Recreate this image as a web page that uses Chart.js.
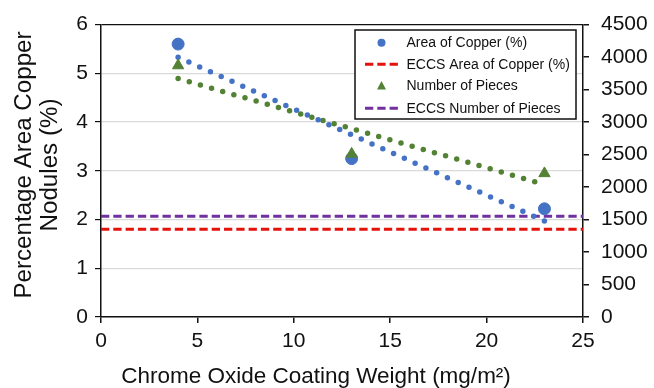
<!DOCTYPE html>
<html>
<head>
<meta charset="utf-8">
<script src="https://cdn.jsdelivr.net/npm/chart.js@4/dist/chart.umd.min.js"></script>
<style>
html,body{margin:0;padding:0;background:#fff;}
#wrap{width:654px;height:388px;position:relative;}
</style>
</head>
<body>
<div id="wrap"><canvas id="c" width="654" height="388"></canvas></div>
<script>
// ---- data ----
const coatingWeight = [4, 13, 23];            // mg/m2
const areaCopper = [5.6, 3.25, 2.22];         // % (left axis)
const numberPieces = [3870, 2510, 2210];      // count (right axis)
const eccsAreaCopper = 1.8;                   // % (left axis)
const eccsNumberPieces = 1550;                // count (right axis)
const trendX = [4, 23];
const areaTrend = [5.33, 1.97];               // linear trend endpoints (left)
const piecesTrend = [3670, 2040];             // linear trend endpoints (right)
const xRange = [0, 25];
const leftTicks = [0, 6, 1];
const rightTicks = [0, 4500, 500];
const legendLabels = ["Area of Copper (%)", "ECCS Area of Copper (%)", "Number of Pieces", "ECCS Number of Pieces"];
const xTitle = "Chrome Oxide Coating Weight (mg/m\u00B2)";
const yTitle = ["Percentage Area Copper", "Nodules (%)"];

const BLUE = '#4472C4', GREEN = '#548235', RED = '#E3120B', PURPLE = '#7030A0';
const FONT = "'Liberation Sans', Arial, sans-serif";

const pts = (xs, ys) => xs.map((x, i) => ({x: x, y: ys[i]}));

const overlay = {
  id: 'overlay',
  afterDraw(chart) {
    const ctx = chart.ctx;
    ctx.save();
    // y title (two lines, rotated)
    ctx.fillStyle = '#111';
    ctx.font = "23px " + FONT;
    ctx.textAlign = 'center';
    ctx.textBaseline = 'middle';
    const cy = 165;
    [[25, yTitle[0]], [51, yTitle[1]]].forEach(([x, t]) => {
      ctx.save();
      ctx.translate(x, cy);
      ctx.rotate(-Math.PI / 2);
      ctx.scale(1.05, 1);
      ctx.fillText(t, 0, 0);
      ctx.restore();
    });
    // x title
    ctx.font = "22.5px " + FONT;
    ctx.textBaseline = 'alphabetic';
    ctx.fillText(xTitle, 316, 383);

    // legend box
    const L = 355, T = 30, R = 576, B = 119;
    ctx.fillStyle = '#fff';
    ctx.fillRect(L, T, R - L, B - T);
    ctx.strokeStyle = '#111';
    ctx.lineWidth = 1.5;
    ctx.strokeRect(L, T, R - L, B - T);
    const rows = [42.7, 64.3, 85.9, 108.2];
    ctx.font = "14px " + FONT;
    ctx.textAlign = 'left';
    ctx.textBaseline = 'middle';
    ctx.fillStyle = '#111';
    legendLabels.forEach((t, i) => ctx.fillText(t, 406.5, rows[i] + 0.5));
    // markers
    ctx.fillStyle = BLUE;
    ctx.beginPath(); ctx.arc(381.5, rows[0], 4, 0, Math.PI * 2); ctx.fill();
    ctx.fillStyle = GREEN;
    ctx.beginPath();
    ctx.moveTo(381.5, rows[2] - 5); ctx.lineTo(386, rows[2] + 3.5); ctx.lineTo(377, rows[2] + 3.5);
    ctx.closePath(); ctx.fill();
    ctx.lineWidth = 3;
    ctx.setLineDash([8.3, 4]);
    [[rows[1], RED], [rows[3], PURPLE]].forEach(([y, c]) => {
      ctx.strokeStyle = c;
      ctx.beginPath(); ctx.moveTo(365, y); ctx.lineTo(398, y); ctx.stroke();
    });
    ctx.restore();
  }
};

const plainTick = v => String(v);

new Chart(document.getElementById('c'), {
  type: 'scatter',
  data: {
    datasets: [
      { label: 'ECCS Area of Copper (%)', type: 'line', yAxisID: 'y',
        data: pts(xRange, [eccsAreaCopper, eccsAreaCopper]),
        borderColor: RED, borderWidth: 3, borderDash: [8.3, 4], pointRadius: 0, fill: false, order: 5 },
      { label: 'ECCS Number of Pieces', type: 'line', yAxisID: 'y1',
        data: pts(xRange, [eccsNumberPieces, eccsNumberPieces]),
        borderColor: PURPLE, borderWidth: 3, borderDash: [8.3, 4], pointRadius: 0, fill: false, order: 4 },
      { label: 'Area trend', type: 'line', yAxisID: 'y',
        data: pts(trendX, areaTrend),
        borderColor: BLUE, borderWidth: 5.5, borderDash: [0, 11.8], borderCapStyle: 'round',
        pointRadius: 0, fill: false, order: 3 },
      { label: 'Pieces trend', type: 'line', yAxisID: 'y1',
        data: pts(trendX, piecesTrend),
        borderColor: GREEN, borderWidth: 5.5, borderDash: [0, 11.6], borderCapStyle: 'round',
        pointRadius: 0, fill: false, order: 3 },
      { label: legendLabels[0], yAxisID: 'y',
        data: pts(coatingWeight, areaCopper),
        backgroundColor: BLUE, borderColor: BLUE, pointRadius: 6, pointStyle: 'circle', order: 2 },
      { label: legendLabels[2], yAxisID: 'y1',
        data: pts(coatingWeight, numberPieces),
        backgroundColor: GREEN, borderColor: GREEN, pointRadius: 6.5, pointStyle: 'triangle', order: 1 }
    ]
  },
  options: {
    responsive: false,
    animation: false,
    events: [],
    layout: { padding: { top: 24, left: 0, right: 0, bottom: 0 } },
    plugins: { legend: { display: false }, tooltip: { enabled: false } },
    scales: {
      x: {
        type: 'linear', min: xRange[0], max: xRange[1],
        afterFit: s => { s.height = 71; },
        ticks: { stepSize: 5, color: '#111', font: { family: FONT, size: 21 }, padding: 6, maxRotation: 0, callback: plainTick },
        grid: { drawOnChartArea: false, drawTicks: true, tickLength: 6, color: '#111', lineWidth: 1.5 },
        border: { color: '#111', width: 1.5 }
      },
      y: {
        position: 'left', min: leftTicks[0], max: leftTicks[1],
        afterFit: s => { s.width = 101; },
        ticks: { stepSize: leftTicks[2], color: '#111', font: { family: FONT, size: 21 }, padding: 7, callback: plainTick },
        grid: {
          drawTicks: true, tickLength: 6, lineWidth: 1.2,
          color: c => (c.tick && c.tick.value === leftTicks[1]) ? '#111' : '#d9d9d9',
          tickColor: '#111'
        },
        border: { color: '#111', width: 1.5 }
      },
      y1: {
        position: 'right', min: rightTicks[0], max: rightTicks[1],
        afterFit: s => { s.width = 71; },
        ticks: { stepSize: rightTicks[2], color: '#111', font: { family: FONT, size: 21 }, padding: 12, callback: plainTick },
        grid: { drawOnChartArea: false, drawTicks: true, tickLength: 6, color: '#111', lineWidth: 1.5 },
        border: { color: '#111', width: 1.5 }
      }
    }
  },
  plugins: [overlay]
});
</script>
</body>
</html>
